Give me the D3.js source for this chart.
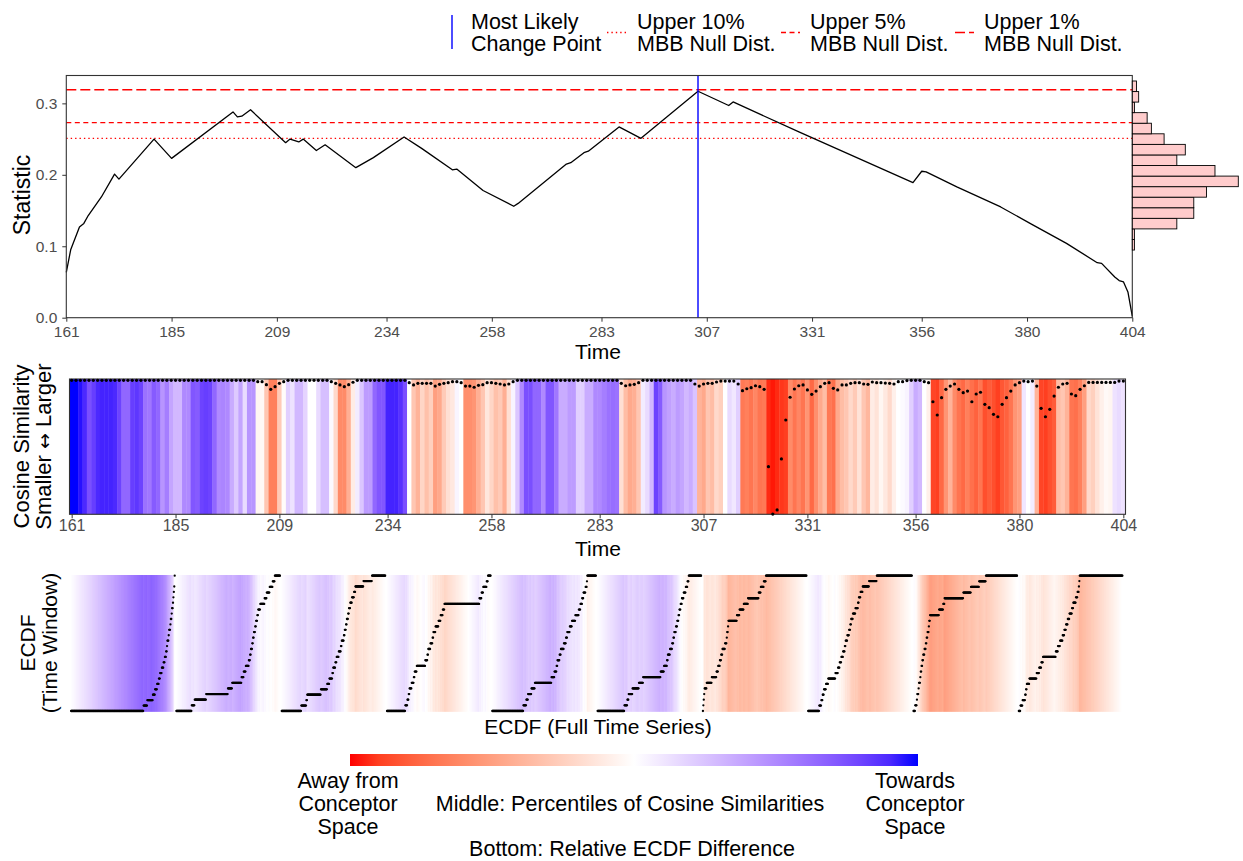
<!DOCTYPE html>
<html>
<head>
<meta charset="utf-8">
<script src="https://cdn.jsdelivr.net/npm/d3@7"></script>
<style>
  body { margin: 0; background: #fff; }
  svg text { font-family: "Liberation Sans", Arial, Helvetica, sans-serif; }
</style>
</head>
<body>
<svg id="chart" width="1243" height="861"></svg>
<script>
// ---- data ----
const timeTicks = [161, 185, 209, 234, 258, 283, 307, 331, 356, 380, 404];
const statTicks = [0, 0.1, 0.2, 0.3];

// statistic curve (vertices)
const statTimes = [161, 162, 164, 165, 166, 169, 172, 173, 181, 185, 199, 200, 201, 203, 211, 212, 214, 215, 218, 220,
  227, 231, 238, 242, 249, 250, 256, 263, 264, 275, 276, 279, 280, 287, 292, 305, 312, 313, 328, 354,
  356, 357, 364, 374, 381, 389, 396, 397, 400, 401, 402, 403, 404];
const statValues = [0.0635, 0.095, 0.127, 0.132, 0.143, 0.169, 0.201, 0.194, 0.25, 0.223, 0.288, 0.281, 0.282, 0.291, 0.245, 0.25, 0.246, 0.25, 0.234, 0.242,
  0.21, 0.224, 0.253, 0.237, 0.207, 0.208, 0.178, 0.156, 0.16, 0.215, 0.217, 0.231, 0.233, 0.267, 0.251, 0.317, 0.297, 0.302, 0.26, 0.189,
  0.205, 0.204, 0.183, 0.155, 0.131, 0.104, 0.077, 0.076, 0.057, 0.052, 0.05, 0.036, 0.002];

const changePoint = 305;
const thresholdValues = [0.251, 0.273, 0.319];
const thresholdNames = [["Upper 10%", "MBB Null Dist."], ["Upper 5%", "MBB Null Dist."], ["Upper 1%", "MBB Null Dist."]];

// null distribution histogram (bottom bin first)
const histBinEdges = [0.0947, 0.1095, 0.1243, 0.1391, 0.1539, 0.1687, 0.1834, 0.1982, 0.2130, 0.2278, 0.2426, 0.2574, 0.2722, 0.2870, 0.3018, 0.3165, 0.3313];
const histCounts = [1, 1, 21, 29, 29, 35, 50, 39, 21, 25, 15, 9, 7, 1, 3, 2];

// middle panel: one column per time point 161..404
const simTimes = d3.range(161, 405);
const simScores = [
  1.0, 1.0, 0.97, 0.9, 0.75, 0.82, 0.9, 0.92, 0.92, 0.92,
  0.9, 0.8, 0.65, 0.65, 0.82, 0.85, 0.8, 0.6, 0.58, 0.7,
  0.65, 0.45, 0.55, 0.38, 0.3, 0.3, 0.5, 0.5, 0.72, 0.7,
  0.8, 0.82, 0.8, 0.65, 0.5, 0.52, 0.5, 0.35, 0.22, 0.38,
  0.15, 0.45, 0.45, -0.05, -0.03, -0.3, -0.65, -0.65, -0.28, -0.02,
  0.2, 0.12, 0.3, 0.3, 0.18, 0, 0, 0.15, 0.27, 0.27,
  0.02, -0.2, -0.6, -0.6, -0.42, -0.1, 0.08, 0.24, 0.42, 0.42,
  0.65, 0.72, 0.72, 0.92, 0.92, 0.92, 0.87, 0.75, 0, -0.3,
  -0.4, -0.22, -0.33, -0.25, -0.5, -0.45, -0.28, -0.17, -0.12, 0.04,
  0, -0.58, -0.58, -0.55, -0.42, -0.3, -0.13, -0.22, -0.33, -0.28,
  -0.42, -0.17, 0.05, 0.24, 0.5, 0.75, 0.75, 0.65, 0.65, 0.5,
  0.72, 0.72, 0.58, 0.35, 0.35, 0.42, 0.42, 0.2, 0.2, 0.35,
  0.35, 0.5, 0.5, 0.55, 0.6, 0.62, 0.6, -0.17, -0.35, -0.45,
  -0.42, -0.3, 0.08, 0.15, 0.3, 0.8, 0.7, 0.45, 0.4, 0.35,
  0.42, 0.38, 0.3, 0.35, 0.25, -0.4, -0.45, -0.3, -0.35, -0.2,
  -0.25, 0, 0.15, 0.1, 0.2, -0.68, -0.65, -0.7, -0.62, -0.7,
  -0.68, -0.95, -0.98, -0.95, -0.92, -0.9, -0.6, -0.7, -0.62, -0.7,
  -0.55, -0.75, -0.58, -0.45, -0.35, -0.68, -0.72, -0.45, -0.35, -0.3,
  -0.2, -0.28, -0.15, -0.3, -0.38, -0.1, -0.15, -0.05, -0.12, -0.2,
  -0.08, 0, 0.02, 0.05, 0.2, 0.35, 0.3, 0, -0.08, -0.88,
  -0.9, -0.75, -0.55, -0.4, -0.6, -0.7, -0.75, -0.65, -0.72, -0.78,
  -0.7, -0.85, -0.8, -0.85, -0.9, -0.82, -0.78, -0.7, -0.55, -0.5,
  0.1, 0, 0.08, -0.4, -0.88, -0.9, -0.85, -0.8, -0.35, -0.3,
  -0.4, -0.7, -0.72, -0.65, -0.5, -0.2, -0.25, -0.15, -0.08, -0.03,
  -0.05, 0.12, 0.15, 0.12
];
const simDots = [
  0.99, 0.99, 0.99, 0.99, 0.99, 0.99, 0.99, 0.99, 0.99, 0.99,
  0.99, 0.99, 0.99, 0.99, 0.99, 0.99, 0.99, 0.99, 0.99, 0.99,
  0.99, 0.99, 0.99, 0.99, 0.99, 0.99, 0.99, 0.99, 0.99, 0.99,
  0.99, 0.99, 0.99, 0.99, 0.99, 0.99, 0.99, 0.99, 0.99, 0.99,
  0.99, 0.99, 0.99, 0.98, 0.98, 0.958, 0.924, 0.943, 0.968, 0.98,
  0.99, 0.99, 0.99, 0.99, 0.99, 0.99, 0.99, 0.99, 0.99, 0.99,
  0.98, 0.968, 0.956, 0.943, 0.958, 0.976, 0.99, 0.99, 0.99, 0.99,
  0.99, 0.99, 0.99, 0.99, 0.99, 0.99, 0.99, 0.99, 0.973, 0.956,
  0.968, 0.968, 0.968, 0.968, 0.948, 0.961, 0.968, 0.973, 0.98, 0.98,
  0.973, 0.948, 0.948, 0.939, 0.953, 0.958, 0.973, 0.973, 0.968, 0.963,
  0.956, 0.963, 0.98, 0.99, 0.99, 0.99, 0.99, 0.99, 0.99, 0.99,
  0.99, 0.99, 0.99, 0.99, 0.99, 0.99, 0.99, 0.99, 0.99, 0.99,
  0.99, 0.99, 0.99, 0.99, 0.99, 0.99, 0.99, 0.968, 0.95, 0.956,
  0.961, 0.973, 0.99, 0.99, 0.99, 0.99, 0.99, 0.99, 0.99, 0.99,
  0.99, 0.99, 0.99, 0.99, 0.963, 0.948, 0.963, 0.968, 0.968, 0.978,
  0.985, 0.985, 0.985, 0.985, 0.963, 0.914, 0.928, 0.936, 0.95, 0.943,
  0.924, 0.352, 0.002, 0.032, 0.409, 0.697, 0.865, 0.926, 0.95, 0.956,
  0.919, 0.887, 0.911, 0.943, 0.968, 0.973, 0.931, 0.919, 0.956, 0.956,
  0.968, 0.973, 0.973, 0.963, 0.961, 0.978, 0.973, 0.973, 0.97, 0.968,
  0.963, 0.98, 0.98, 0.988, 0.99, 0.99, 0.99, 0.98, 0.973, 0.832,
  0.734, 0.862, 0.924, 0.948, 0.963, 0.924, 0.899, 0.911, 0.832, 0.889,
  0.902, 0.813, 0.788, 0.739, 0.721, 0.813, 0.862, 0.911, 0.956, 0.973,
  0.985, 0.98, 0.985, 0.948, 0.783, 0.721, 0.776, 0.874, 0.939, 0.963,
  0.968, 0.889, 0.877, 0.924, 0.95, 0.975, 0.975, 0.975, 0.975, 0.975,
  0.975, 0.975, 0.985, 0.985
];

// bottom panels: full-series ECDF position of each value in the time window
const windowRanks = [
  [0.70, 0.735, 0.79, 0.81, 0.83, 0.845, 0.86, 0.875, 0.89, 0.905, 0.915, 0.925, 0.93, 0.94, 0.945, 0.955, 0.96, 0.97, 0.975, 0.98, 0.985, 0.99, 0.995, 0.998, 1.0],
  [0.15, 0.18, 0.29, 0.50, 0.54, 0.63, 0.65, 0.67, 0.70, 0.71, 0.72, 0.73, 0.74, 0.75, 0.76, 0.77, 0.78, 0.79, 0.81, 0.85, 0.87, 0.90, 0.93, 0.95],
  [0.19, 0.24, 0.25, 0.38, 0.44, 0.46, 0.49, 0.50, 0.52, 0.53, 0.55, 0.57, 0.58, 0.60, 0.61, 0.62, 0.63, 0.64, 0.65, 0.66, 0.68, 0.70, 0.71, 0.79, 0.87],
  [0.18, 0.20, 0.21, 0.22, 0.24, 0.26, 0.27, 0.29, 0.37, 0.39, 0.40, 0.42, 0.44, 0.45, 0.47, 0.50, 0.52, 0.54, 0.555, 0.89, 0.91, 0.93, 0.96, 0.975],
  [0.30, 0.33, 0.345, 0.38, 0.41, 0.57, 0.60, 0.62, 0.63, 0.65, 0.66, 0.69, 0.71, 0.725, 0.75, 0.77, 0.80, 0.835, 0.85, 0.867, 0.88, 0.90, 0.91, 0.915],
  [0.26, 0.29, 0.30, 0.34, 0.40, 0.44, 0.61, 0.64, 0.67, 0.68, 0.70, 0.72, 0.73, 0.74, 0.755, 0.77, 0.78, 0.79, 0.80, 0.815, 0.83, 0.85, 0.865, 0.88],
  [0.005, 0.01, 0.015, 0.02, 0.04, 0.09, 0.134, 0.15, 0.165, 0.18, 0.19, 0.214, 0.23, 0.236, 0.245, 0.25, 0.33, 0.356, 0.394, 0.435, 0.54, 0.56, 0.587, 0.61],
  [0.11, 0.13, 0.14, 0.154, 0.173, 0.195, 0.265, 0.29, 0.306, 0.32, 0.337, 0.353, 0.363, 0.378, 0.394, 0.407, 0.416, 0.432, 0.458, 0.48, 0.49, 0.505, 0.527, 0.59, 0.66],
  [0.02, 0.034, 0.04, 0.05, 0.056, 0.066, 0.072, 0.081, 0.09, 0.097, 0.11, 0.122, 0.129, 0.138, 0.15, 0.154, 0.16, 0.25, 0.29, 0.30, 0.48, 0.556, 0.635, 0.70],
  [0.02, 0.04, 0.063, 0.07, 0.078, 0.104, 0.173, 0.2, 0.22, 0.237, 0.357, 0.38, 0.40, 0.426, 0.44, 0.458, 0.473, 0.49, 0.515, 0.527, 0.553, 0.569, 0.578, 0.585, 0.59]
];

// ---- drawing ----
const svg = d3.select("#chart");
const tickGrey = "#4d4d4d";
const colorScale = d3.scaleLinear().domain([-1, 0, 1])
  .range(["#ff0000", "#ffffff", "#0000ff"]).interpolate(d3.interpolateLab);

function styleAxis(g, size) {
  g.select(".domain").remove();
  g.selectAll(".tick line").attr("stroke", "#333").attr("stroke-width", 1);
  g.selectAll(".tick text").attr("fill", tickGrey).style("font-size", size + "px");
}

// legend
const legend = svg.append("g").attr("class", "legend");
const legendKeyX = [452, 607, 781, 955];
const legendTextX = [471, 637, 810, 984];
const dashes = ["1.4,3", "5,3.5", "10,4"];
legend.append("line")
  .attr("x1", legendKeyX[0]).attr("x2", legendKeyX[0]).attr("y1", 15).attr("y2", 49)
  .attr("stroke", "#0000ff").attr("stroke-width", 1.4);
legend.selectAll(".key-thresh").data(thresholdValues).join("line")
  .attr("class", "key-thresh")
  .attr("x1", (d, i) => legendKeyX[i + 1]).attr("x2", (d, i) => legendKeyX[i + 1] + 19)
  .attr("y1", 32.5).attr("y2", 32.5)
  .attr("stroke", "#ff0000").attr("stroke-width", 1.4)
  .attr("stroke-dasharray", (d, i) => dashes[i]);
const legendLabels = [["Most Likely", "Change Point"]].concat(thresholdNames);
legendLabels.forEach((lines, i) => {
  legend.selectAll(".lt" + i).data(lines).join("text")
    .attr("class", "lt" + i)
    .attr("x", legendTextX[i]).attr("y", (d, j) => 29 + j * 22)
    .style("font-size", "21.5px").attr("fill", "#000")
    .text(d => d);
});

// top panel
const xTop = d3.scaleLinear().domain([161, 404]).range([66.3, 1132.3]);
const yTop = d3.scaleLinear().domain([0, 0.339]).range([317.7, 75.5]);
const topPanel = svg.append("g").attr("class", "top_panel");

topPanel.selectAll(".thresh").data(thresholdValues).join("line")
  .attr("class", "thresh")
  .attr("x1", xTop(161)).attr("x2", xTop(404))
  .attr("y1", d => yTop(d)).attr("y2", d => yTop(d))
  .attr("stroke", "#ff0000").attr("stroke-width", 1.4)
  .attr("stroke-dasharray", (d, i) => dashes[i]);

const statPoints = statTimes.map((t, i) => [t, statValues[i]]);
topPanel.append("path").datum(statPoints)
  .attr("fill", "none").attr("stroke", "#000").attr("stroke-width", 1.3)
  .attr("stroke-linejoin", "round")
  .attr("d", d3.line().x(d => xTop(d[0])).y(d => yTop(d[1])));

topPanel.append("line")
  .attr("x1", xTop(changePoint)).attr("x2", xTop(changePoint))
  .attr("y1", yTop.range()[1]).attr("y2", yTop.range()[0])
  .attr("stroke", "#0000ff").attr("stroke-width", 1.4);

topPanel.append("rect")
  .attr("x", xTop(161)).attr("y", yTop.range()[1])
  .attr("width", xTop(404) - xTop(161)).attr("height", yTop.range()[0] - yTop.range()[1])
  .attr("fill", "none").attr("stroke", "#333").attr("stroke-width", 1.1);

const xHist = d3.scaleLinear().domain([0, d3.max(histCounts)]).range([xTop(404), 1238.3]);
topPanel.selectAll(".hist-bar").data(histCounts).join("rect")
  .attr("class", "hist-bar")
  .attr("x", xHist(0))
  .attr("y", (d, i) => yTop(histBinEdges[i + 1]))
  .attr("width", d => xHist(d) - xHist(0))
  .attr("height", (d, i) => yTop(histBinEdges[i]) - yTop(histBinEdges[i + 1]))
  .attr("fill", "#ffcccc").attr("stroke", "#000").attr("stroke-width", 0.9);

topPanel.append("g").attr("transform", `translate(0,${yTop(0)})`)
  .call(d3.axisBottom(xTop).tickValues(timeTicks).tickSize(4).tickPadding(4))
  .call(g => styleAxis(g, 15.5));
topPanel.append("g").attr("transform", `translate(${xTop(161)},0)`)
  .call(d3.axisLeft(yTop).tickValues(statTicks).tickSize(4).tickPadding(5).tickFormat(d3.format(".1f")))
  .call(g => styleAxis(g, 15.5));

topPanel.append("text").attr("transform", "translate(30,195) rotate(-90)")
  .attr("text-anchor", "middle").style("font-size", "23px").text("Statistic");
topPanel.append("text").attr("x", 598).attr("y", 359)
  .attr("text-anchor", "middle").style("font-size", "21px").text("Time");

// middle panel
const xMid = d3.scaleLinear().domain([160.5, 404.5]).range([69.5, 1125.5]);
const yMid = d3.scaleLinear().domain([0, 1]).range([514.3, 379]);
const midPanel = svg.append("g").attr("class", "mid_panel");

midPanel.selectAll(".sim-cell").data(simTimes).join("rect")
  .attr("class", "sim-cell")
  .attr("x", d => xMid(d - 0.5))
  .attr("y", yMid(1))
  .attr("width", d => xMid(d + 0.5) - xMid(d - 0.5) + 0.4)
  .attr("height", yMid(0) - yMid(1))
  .attr("fill", (d, i) => colorScale(simScores[i]));

midPanel.append("rect")
  .attr("x", xMid(160.5)).attr("y", yMid(1))
  .attr("width", xMid(404.5) - xMid(160.5)).attr("height", yMid(0) - yMid(1))
  .attr("fill", "none").attr("stroke", "#333").attr("stroke-width", 1.1);

midPanel.selectAll(".sim-dot").data(simTimes).join("circle")
  .attr("class", "sim-dot")
  .attr("cx", d => xMid(d))
  .attr("cy", (d, i) => yMid(simDots[i]))
  .attr("r", 1.6).attr("fill", "#000");

midPanel.append("g").attr("transform", `translate(0,${yMid(0)})`)
  .call(d3.axisBottom(xMid).tickValues(timeTicks).tickSize(4).tickPadding(1))
  .call(g => styleAxis(g, 16));

midPanel.append("text")
  .attr("transform", "translate(29,446.5) rotate(-90)")
  .attr("text-anchor", "middle").style("font-size", "22px").text("Cosine Similarity");
const arrowLab = midPanel.append("text")
  .attr("transform", "translate(51,446.5) rotate(-90)")
  .attr("text-anchor", "middle").style("font-size", "22px");
arrowLab.append("tspan").text("Smaller ");
arrowLab.append("tspan").style("font-family", "'DejaVu Sans', sans-serif").style("font-size", "19px").text("\u2194");
arrowLab.append("tspan").text(" Larger");
midPanel.append("text").attr("x", 598).attr("y", 556)
  .attr("text-anchor", "middle").style("font-size", "21px").text("Time");

// bottom panels
const bottomPanels = svg.append("g").attr("class", "bottom_panels");
const nFull = simTimes.length;
const fullGrid = simTimes.map((d, i) => (i + 1) / nFull);
const yEcdf = d3.scaleLinear().domain([0, 1]).range([711, 575.7]);

windowRanks.forEach((ranks, k) => {
  const left = 70.7 + k * 105.3;
  const xE = d3.scaleLinear().domain([0, 1]).range([left, left + 104]);
  const sorted = ranks.slice().sort(d3.ascending);
  const ecdf = g => d3.bisectRight(sorted, g + 1e-9) / sorted.length;
  const pts = fullGrid.map(g => ({ g: g, f: ecdf(g) }));
  const panel = bottomPanels.append("g").attr("class", "ecdf_panel");

  panel.selectAll(".bg").data(pts).join("rect")
    .attr("class", "bg")
    .attr("x", d => xE(d.g - 1 / nFull))
    .attr("y", 575)
    .attr("width", xE(1 / nFull) - xE(0) + 0.35)
    .attr("height", 711.7 - 575)
    .attr("fill", d => colorScale(d.g - d.f));

  panel.selectAll(".pt").data(pts).join("circle")
    .attr("class", "pt")
    .attr("cx", d => xE(d.g))
    .attr("cy", d => yEcdf(d.f))
    .attr("r", 1.15).attr("fill", "#000");
});

bottomPanels.selectAll(".bot-ylab").data(["ECDF", "(Time Window)"]).join("text")
  .attr("class", "bot-ylab")
  .attr("transform", (d, i) => `translate(${35 + i * 22},643) rotate(-90)`)
  .attr("text-anchor", "middle").style("font-size", "21px").text(d => d);
bottomPanels.append("text").attr("x", 598).attr("y", 734)
  .attr("text-anchor", "middle").style("font-size", "21px").text("ECDF (Full Time Series)");

// colour bar
const defs = svg.append("defs");
const grad = defs.append("linearGradient").attr("id", "cbar");
grad.selectAll("stop").data(d3.range(0, 1.0001, 0.05)).join("stop")
  .attr("offset", d => d)
  .attr("stop-color", d => colorScale(d * 2 - 1));
svg.append("rect").attr("x", 350).attr("y", 754).attr("width", 568).attr("height", 12)
  .attr("fill", "url(#cbar)");

const cbText = svg.append("g").attr("class", "cbar_text");
[["Away from", "Conceptor", "Space", 348], ["Towards", "Conceptor", "Space", 915]].forEach(lines => {
  cbText.selectAll(null).data(lines.slice(0, 3)).join("text")
    .attr("x", lines[3]).attr("y", (d, i) => 788 + i * 23)
    .attr("text-anchor", "middle").style("font-size", "21.5px").text(d => d);
});
cbText.append("text").attr("x", 630).attr("y", 811)
  .attr("text-anchor", "middle").style("font-size", "21.5px").text("Middle: Percentiles of Cosine Similarities");
cbText.append("text").attr("x", 632).attr("y", 856)
  .attr("text-anchor", "middle").style("font-size", "21.5px").text("Bottom: Relative ECDF Difference");
</script>
</body>
</html>
